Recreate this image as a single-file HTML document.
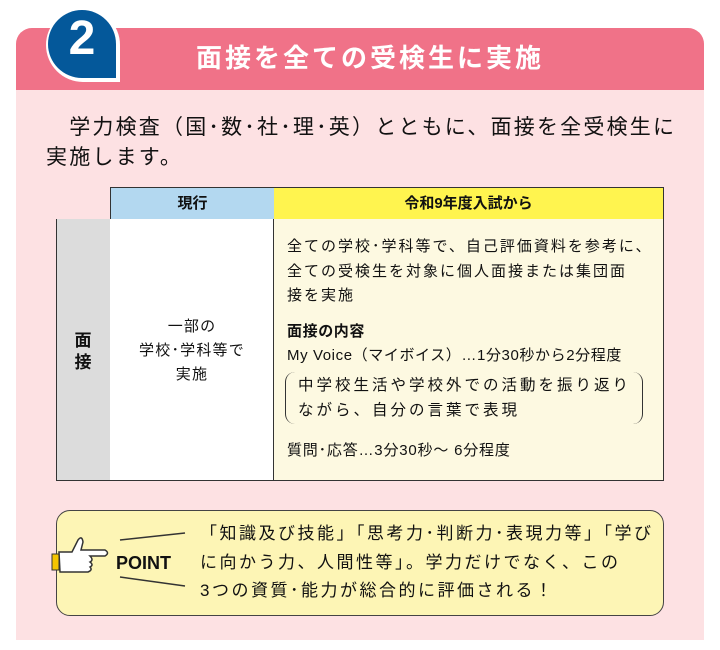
<!DOCTYPE html>
<html><head><meta charset="utf-8"><style>
body{margin:0;width:720px;height:650px;background:#fff;position:relative;font-family:"Liberation Sans","Noto Sans CJK JP",sans-serif;color:#111;overflow:hidden}
.a{position:absolute;white-space:nowrap}
</style></head><body>
<div class="a" style="left:16px;top:28px;width:688px;height:612px;background:#fde1e3;border-radius:16px 16px 0 0;overflow:hidden">
<div style="height:62px;background:#f07288"></div>
</div>
<div class="a" style="left:46px;top:8px;width:74px;height:74px;background:#fff;border-radius:37px 37px 0 37px"></div>
<div class="a" style="left:48px;top:10px;width:68px;height:68px;background:#04589a;border-radius:34px 34px 0 34px"></div>
<div class="a" style="left:48px;top:12px;width:68px;text-align:center;color:#fff;font-size:48px;font-weight:bold;line-height:54px">2</div>
<div class="a" style="left:180px;top:41px;width:380px;text-align:center;color:#fff;font-size:26px;font-weight:bold;line-height:34px;letter-spacing:3px">面接を全ての受検生に実施</div>
<div class="a" style="left:46px;top:113px;font-size:21px;line-height:30px;letter-spacing:2.2px">　学力検査（国･数･社･理･英）とともに、面接を全受検生に<br>実施します。</div>

<div class="a" style="left:110px;top:187px;width:163px;height:31px;background:#b3d8f0;border:1px solid #333;text-align:center;font-size:15px;line-height:31px;font-weight:bold">現行</div>
<div class="a" style="left:274px;top:187px;width:389px;height:31px;background:#fff44f;border:1px solid #333;border-left:none;text-align:center;font-size:15px;line-height:31px;font-weight:bold">令和9年度入試から</div>
<div class="a" style="left:56px;top:219px;width:53px;height:261px;background:#dcdcdc;border:1px solid #333;border-top:none"></div>
<div class="a" style="left:110px;top:219px;width:163px;height:261px;background:#fff;border:1px solid #333;border-top:none;border-left:none"></div>
<div class="a" style="left:274px;top:219px;width:389px;height:261px;background:#fdf9e1;border:1px solid #333;border-top:none;border-left:none"></div>
<div class="a" style="left:56px;top:330px;width:54px;text-align:center;font-size:17px;font-weight:bold;line-height:22px">面<br>接</div>
<div class="a" style="left:110px;top:315px;width:164px;text-align:center;font-size:15px;line-height:24px;letter-spacing:1.2px">一部の<br>学校･学科等で<br>実施</div>
<div class="a" style="left:287px;top:235px;font-size:15px;line-height:24.5px;letter-spacing:2px">全ての学校･学科等で、自己評価資料を参考に、<br>全ての受検生を対象に個人面接または集団面<br>接を実施</div>
<div class="a" style="left:287px;top:320px;font-size:15px;line-height:24px;letter-spacing:0.6px"><b>面接の内容</b><br>My Voice（マイボイス）…1分30秒から2分程度</div>
<div class="a" style="left:285px;top:372px;width:356px;height:52px;border-left:1.5px solid #333;border-right:1.5px solid #333;border-radius:10px"></div>
<div class="a" style="left:298px;top:373px;font-size:15.5px;line-height:25px;letter-spacing:3px">中学校生活や学校外での活動を振り返り<br>ながら、自分の言葉で表現</div>
<div class="a" style="left:287px;top:439px;font-size:15px;line-height:24px;letter-spacing:0.8px">質問･応答…3分30秒～ 6分程度</div>

<div class="a" style="left:56px;top:510px;width:606px;height:104px;background:#fdf5b5;border:1.5px solid #444;border-radius:14px"></div>
<svg class="a" style="left:50px;top:530px" width="100" height="60" viewBox="0 0 100 60">
<rect x="2" y="24" width="7" height="16" fill="#f5c400" stroke="#333" stroke-width="1"/>
<path d="M9 22 L22 22 L28 10 Q32 5 33 12 L31 20 L55 20 Q60 23 55 26 L40 26 Q44 30 40 32 Q44 35 40 37 Q43 40 38 42 L10 42 Z" fill="#fff" stroke="#333" stroke-width="1.5"/>
</svg>
<svg class="a" style="left:100px;top:530px" width="100" height="60"><line x1="20" y1="10" x2="85" y2="3" stroke="#333" stroke-width="1.5"/><line x1="20" y1="47" x2="85" y2="56" stroke="#333" stroke-width="1.5"/></svg>
<div class="a" style="left:116px;top:552px;font-size:18px;font-weight:bold;line-height:22px">POINT</div>
<div class="a" style="left:200px;top:520px;font-size:17px;line-height:28.5px;letter-spacing:2.5px">「知識及び技能」「思考力･判断力･表現力等」「学び<br>に向かう力、人間性等」。学力だけでなく、この<br>3つの資質･能力が総合的に評価される！</div>
</body></html>
